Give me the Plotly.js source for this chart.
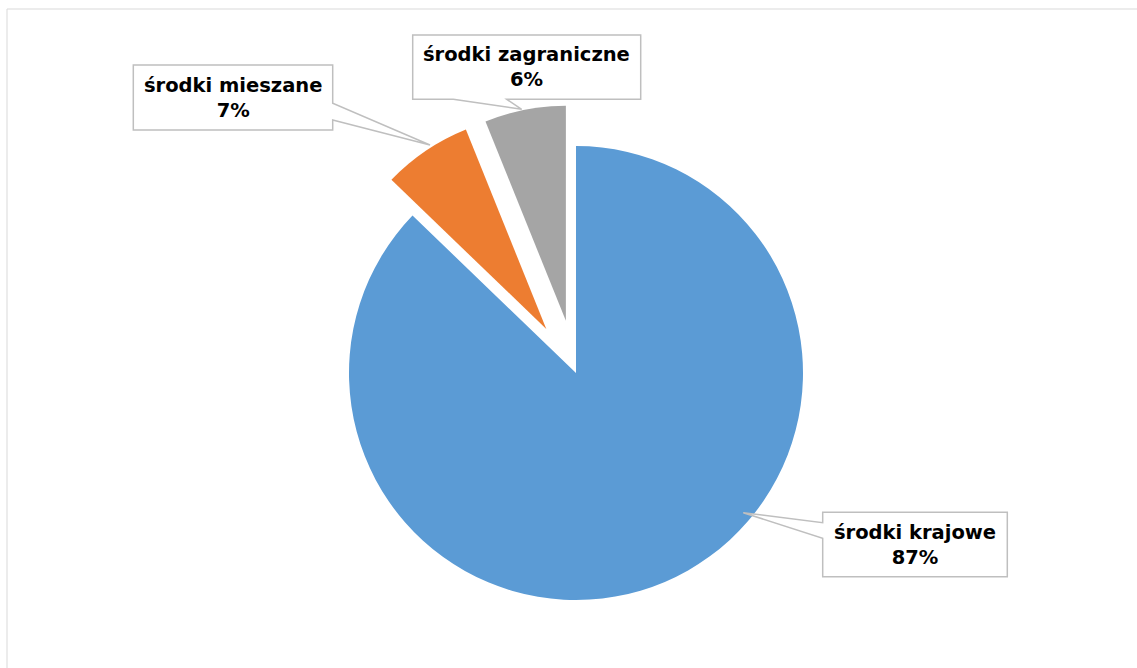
<!DOCTYPE html>
<html><head><meta charset="utf-8">
<script src="https://cdn.plot.ly/plotly-3.0.1.min.js"></script>
<style>html,body{margin:0;padding:0;background:#fff;} #chart{width:1137px;height:668px;}</style>
</head><body><div id="chart"></div>
<script>
// ---- data ----
const categories = ['środki krajowe', 'środki mieszane', 'środki zagraniczne'];
const values = [87.2, 6.7, 6.1];
const percentLabels = ['87%', '7%', '6%'];

// ---- style ----
const colors = ['#5B9BD5', '#ED7D31', '#A5A5A5'];
const W = 1137, H = 668;
const fx = x => x / W;
const fy = y => 1 - y / H;

// pie geometry (pixels)
const cx = 576, cy = 373;
const rMain = 227, rPulled = 215, pullFrac = 0.247;
const halfB = rPulled * (1 + pullFrac);

const transparent = 'rgba(0,0,0,0)';
const traceMain = {
  type: 'pie', labels: categories, values: values, sort: false,
  direction: 'clockwise', rotation: 0,
  marker: { colors: [colors[0], transparent, transparent], line: { width: 0 } },
  textinfo: 'none', hoverinfo: 'skip', showlegend: false,
  domain: { x: [fx(cx - rMain), fx(cx + rMain)], y: [fy(cy + rMain), fy(cy - rMain)] }
};
const tracePulled = {
  type: 'pie', labels: categories, values: values, sort: false,
  direction: 'clockwise', rotation: 0,
  pull: [0, pullFrac, pullFrac],
  marker: { colors: [transparent, colors[1], colors[2]], line: { width: 0 } },
  textinfo: 'none', hoverinfo: 'skip', showlegend: false,
  domain: { x: [fx(cx - halfB), fx(cx + halfB)], y: [fy(cy + halfB), fy(cy - halfB)] }
};

// callout boxes (pixel geometry): box [l,t,r,b], wedge base & tip
function pathFrom(pts) {
  return 'M ' + pts.map(p => fx(p[0]).toFixed(5) + ',' + fy(p[1]).toFixed(5)).join(' L ') + ' Z';
}
const callouts = [
  { box: [822.7, 512.3, 1007.3, 576.7],
    pts: b => [[b[0],b[1]],[b[2],b[1]],[b[2],b[3]],[b[0],b[3]],[b[0],538.3],[743.3,512.7],[b[0],522.7]] },
  { box: [133.3, 65, 332.7, 130],
    pts: b => [[b[0],b[1]],[b[2],b[1]],[b[2],103.3],[430,145],[b[2],120],[b[2],b[3]],[b[0],b[3]]] },
  { box: [412.7, 35, 640.7, 99.3],
    pts: b => [[b[0],b[1]],[b[2],b[1]],[b[2],b[3]],[506.7,b[3]],[521.7,109.3],[453.3,b[3]],[b[0],b[3]]] }
];

const shapes = [
  { type: 'line', xref: 'paper', yref: 'paper', x0: fx(7), y0: fy(9), x1: 1, y1: fy(9), line: { color: '#d9d9d9', width: 1 } },
  { type: 'line', xref: 'paper', yref: 'paper', x0: fx(7), y0: fy(9), x1: fx(7), y1: 0, line: { color: '#d9d9d9', width: 1 } }
];
const annotations = [];
callouts.forEach((c, i) => {
  const b = c.box;
  shapes.push({ type: 'path', xref: 'paper', yref: 'paper', path: pathFrom(c.pts(b)),
    fillcolor: '#ffffff', line: { color: '#bfbfbf', width: 1.5 } });
  annotations.push({
    xref: 'paper', yref: 'paper', x: fx((b[0] + b[2]) / 2), y: fy((b[1] + b[3]) / 2),
    xanchor: 'center', yanchor: 'middle', showarrow: false, align: 'center',
    text: '<b>' + categories[i] + '<br>' + percentLabels[i] + '</b>',
    font: { family: 'DejaVu Sans, sans-serif', size: 19.5, color: '#000000' }
  });
});

const layout = {
  width: W, height: H,
  margin: { l: 0, r: 0, t: 0, b: 0 },
  paper_bgcolor: '#ffffff', plot_bgcolor: '#ffffff',
  showlegend: false,
  shapes: shapes, annotations: annotations
};
Plotly.newPlot('chart', [traceMain, tracePulled], layout, { displayModeBar: false, staticPlot: true });
</script>
</body></html>
